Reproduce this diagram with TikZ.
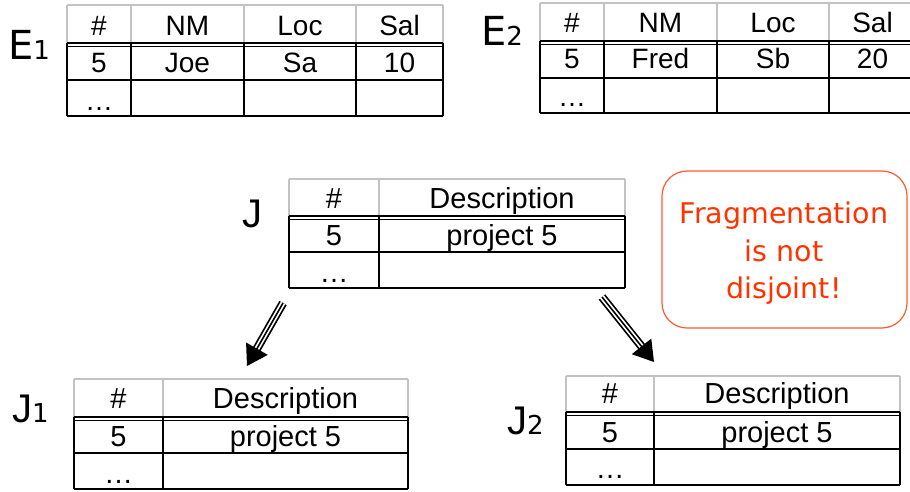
\documentclass[tikz,border=0pt]{standalone}
\usepackage{fontspec}
\setmainfont{Liberation Sans}
\newfontfamily\lblfont{DejaVu Sans}
\usetikzlibrary{arrows.meta,calc}

\definecolor{alert}{RGB}{255,51,0}
\definecolor{alertframe}{RGB}{255,90,50}
\definecolor{rulegrey}{RGB}{195,195,195}

% a J that sits on the baseline, like the E beside the other names
\newcommand{\relJ}{{\rmfamily J}}

\tikzset{
  headrule/.style={draw=rulegrey, line width=1.1pt},
  bodyrule/.style={draw=black, line width=1.3pt},
  celltext/.style={anchor=base, inner sep=0pt},
  bigcell/.style={celltext, font=\fontsize{28}{28}\selectfont},
  jcell/.style={celltext, font=\fontsize{29}{29}\selectfont},
  rellabel/.style={anchor=base west, inner sep=0pt, font=\lblfont\fontsize{40}{40}\selectfont},
  notebox/.style={draw=alertframe, line width=1.2pt, rounded corners=25pt, inner sep=0pt},
  notetext/.style={text=alert, align=center, inner sep=0pt,
    font=\lblfont\fontsize{28.5}{37.5}\selectfont},
}

% relation grid: #1 left x, #2 right x, #3 inner column xs,
% #4 top y, #5 header bottom y, #6 first row bottom y, #7 bottom y
\newcommand{\relgrid}[7]{%
  \draw[headrule] (#1,#4) -- (#2,#4);
  \foreach \cx in {#1,#3,#2} \draw[headrule] (\cx,#4) -- (\cx,#5);
  \draw[draw=black, line width=2.2pt] (#1,#5) -- (#2,#5);
  \draw[draw=black, line width=1pt] (#1,#5+3) -- (#2,#5+3);
  \foreach \cx in {#1,#3,#2} \draw[bodyrule] (\cx,#5) -- (\cx,#7);
  \draw[bodyrule] (#1,#6) -- (#2,#6);
  \draw[bodyrule] (#1,#7) -- (#2,#7);
}

% hollow triple-shaft arrow from #1 (tail) to #2 (tip)
\newcommand{\triplearrow}[2]{%
  \coordinate (#1-base) at ($(#2)!20pt!(#1)$);
  \coordinate (#1-shaftend) at ($(#2)!18pt!(#1)$);
  \draw[line width=8.5pt] (#1) -- (#1-shaftend);
  \draw[line width=5pt, white] (#1) -- (#1-shaftend);
  \draw[line width=1.6pt] (#1) -- (#1-shaftend);
  \fill (#2) -- ($(#1-base)!12.5pt!90:(#2)$) -- ($(#1-base)!12.5pt!-90:(#2)$) -- cycle;
}

\begin{document}
\begin{tikzpicture}[x=1pt, y=-1pt]
\useasboundingbox (0,0) rectangle (910,491);
\clip (0,0) rectangle (910,491);

% ---- E1 ----
\relgrid{67}{443}{131,244,356}{5}{43}{80}{116}
\node[rellabel] (E1lbl) at (8,59) {E\fontsize{26}{26}\selectfont 1};
\node[bigcell] (e1a) at (99,35) {\#};
\node[bigcell] (e1b) at (187.5,35) {NM};
\node[bigcell] (e1c) at (300,35) {Loc};
\node[bigcell] (e1d) at (399.5,35) {Sal};
\node[bigcell] (e1e) at (99,72) {5};
\node[bigcell] (e1f) at (187.5,72) {Joe};
\node[bigcell] (e1g) at (300,72) {Sa};
\node[bigcell] (e1h) at (399.5,72) {10};
\node[bigcell] (e1i) at (99,110) {\ldots};

% ---- E2 ----
\relgrid{540}{916}{604,717,829}{3}{41}{78}{113}
\node[rellabel] (E2lbl) at (481,45) {E\fontsize{26}{26}\selectfont 2};
\node[bigcell] (e2a) at (572,32) {\#};
\node[bigcell] (e2b) at (660.5,32) {NM};
\node[bigcell] (e2c) at (773,32) {Loc};
\node[bigcell] (e2d) at (872.5,32) {Sal};
\node[bigcell] (e2e) at (572,68) {5};
\node[bigcell] (e2f) at (660.5,68) {Fred};
\node[bigcell] (e2g) at (773,68) {Sb};
\node[bigcell] (e2h) at (872.5,68) {20};
\node[bigcell] (e2i) at (572,106) {\ldots};

% ---- J ----
\relgrid{289}{625}{379}{179}{216}{252}{288}
\node[rellabel] (Jlbl) at (242,227) {\relJ};
\node[jcell] (ja) at (334,208) {\#};
\node[jcell] (jb) at (502,208) {Description};
\node[jcell] (jc) at (334,245) {5};
\node[jcell] (jd) at (502,245) {project 5};
\node[jcell] (je) at (334,282) {\ldots};

% ---- J1 ----
\relgrid{74}{408}{163}{379}{417}{453}{489}
\node[rellabel] (J1lbl) at (12,422) {\relJ\fontsize{26}{26}\selectfont 1};
\node[jcell] (j1a) at (118.5,408) {\#};
\node[jcell] (j1b) at (285.5,408) {Description};
\node[jcell] (j1c) at (118.5,446) {5};
\node[jcell] (j1d) at (285.5,446) {project 5};
\node[jcell] (j1e) at (118.5,483) {\ldots};

% ---- J2 ----
\relgrid{566}{900}{654}{376}{412}{449}{485}
\node[rellabel] (J2lbl) at (507,434) {\relJ\fontsize{26}{26}\selectfont 2};
\node[jcell] (j2a) at (610,403) {\#};
\node[jcell] (j2b) at (777,403) {Description};
\node[jcell] (j2c) at (610,442) {5};
\node[jcell] (j2d) at (777,442) {project 5};
\node[jcell] (j2e) at (610,478) {\ldots};

% ---- note ----
\node[notebox, minimum width=245pt, minimum height=157pt] (note) at (784.5,249.5) {};
\node[notetext] (notetxt) at (784,253.5) {Fragmentation\\is not\\disjoint!};

% ---- fragmentation arrows ----
\coordinate (la) at (283,303);
\coordinate (latip) at (247,366);
\coordinate (ra) at (602,297);
\coordinate (ratip) at (654,362);
\triplearrow{la}{latip}
\triplearrow{ra}{ratip}
\end{tikzpicture}
\end{document}
